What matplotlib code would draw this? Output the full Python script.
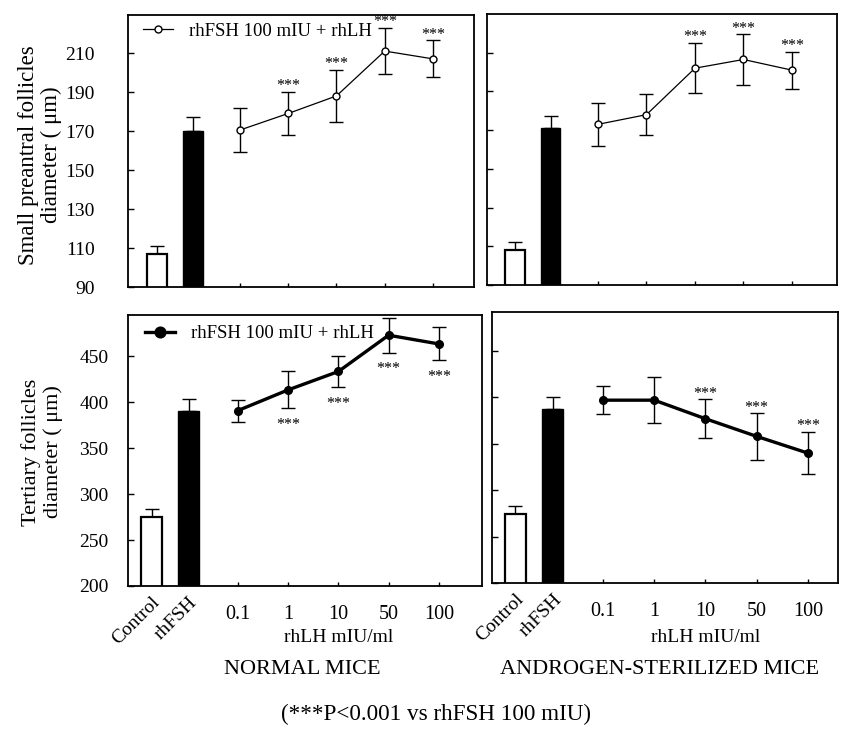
import numpy as np
import matplotlib
matplotlib.use("Agg")
import matplotlib.pyplot as plt
import matplotlib.transforms as mtransforms

plt.rcParams['font.family'] = ['Liberation Serif', 'DejaVu Serif']

# ---- data ----
doses = ['0.1', '1', '10', '50', '100']
bar_names = ['Control', 'rhFSH']

# small preantral follicles, normal mice
tl_bar = [107, 170]
tl_bar_err = [4, 7]
tl_pts = [170.5, 179, 188, 211, 207]
tl_err = [11.5, 11, 13.5, 12, 9.5]
tl_sig = [0, 1, 1, 1, 1]

# small preantral follicles, androgen-sterilized mice
tr_bar = [108, 171]
tr_bar_err = [4, 6.5]
tr_pts = [173, 178, 202, 206.5, 201]
tr_err = [11, 10.5, 13, 13, 9.5]
tr_sig = [0, 0, 1, 1, 1]

# tertiary follicles, normal mice
bl_bar = [275, 391]
bl_bar_err = [9, 12.5]
bl_pts = [391, 413.5, 433.5, 473, 463.5]
bl_err = [12, 20, 17, 19, 18]
bl_sig = [0, 1, 1, 1, 1]

# tertiary follicles, androgen-sterilized mice
br_bar = [274, 388]
br_bar_err = [9.5, 12.5]
br_pts = [397, 397, 377, 358, 340]
br_err = [15, 24.5, 21, 25, 23]
br_sig = [0, 0, 1, 1, 1]

legend_label = 'rhFSH 100 mIU + rhLH'

W, H = 841, 737
fig = plt.figure(figsize=(W / 100, H / 100), dpi=100)


def px_axes(l, r, t, b):
    return fig.add_axes([l / W, 1 - b / H, (r - l) / W, (b - t) / H])


bar_x = [-1.72, -0.98]
pt_x = np.arange(len(doses))


def panel(ax, bars, bar_err, pts, err, sig, xlim, ylim, yticks, filled,
          sig_below=False, legend=False, leg_anchor=None, show_ylab=False, ypad=10,
          show_x=False):
    ax.bar(bar_x[0], bars[0], width=0.41, color='white', edgecolor='black', linewidth=1.6, zorder=2)
    ax.bar(bar_x[1], bars[1], width=0.41, color='black', edgecolor='black', linewidth=1.0, zorder=2)
    ax.errorbar(bar_x, bars, yerr=[[0, 0], bar_err], fmt='none', ecolor='black',
                elinewidth=1.0, capsize=5, capthick=1.0, zorder=1)
    if filled:
        line, = ax.plot(pt_x, pts, '-o', color='black', lw=2.4, ms=5.5,
                        mfc='black', mec='black', zorder=3, label=legend_label)
    else:
        line, = ax.plot(pt_x, pts, '-o', color='black', lw=0.9, ms=5,
                        mfc='white', mec='black', mew=1.0, zorder=3, label=legend_label)
    ax.errorbar(pt_x, pts, yerr=err, fmt='none', ecolor='black',
                elinewidth=1.0, capsize=5, capthick=1.0, zorder=2)
    for x, y, e, s in zip(pt_x, pts, err, sig):
        if not s:
            continue
        if sig_below:
            ax.annotate('***', (x, y - e), xytext=(0, -12), textcoords='offset points',
                        ha='center', va='center', fontsize=11.5)
        else:
            ax.annotate('***', (x, y + e), xytext=(0, 4), textcoords='offset points',
                        ha='center', va='center', fontsize=11.5)
    ax.set_xlim(*xlim)
    ax.set_ylim(*ylim)
    ax.set_yticks(yticks)
    ax.tick_params(axis='y', direction='in', length=4, width=1, labelsize=14, pad=ypad,
                   labelleft=show_ylab)
    ax.set_xticks(pt_x)
    ax.tick_params(axis='x', direction='in', length=3, width=1, labelsize=14.5, pad=14,
                   labelbottom=show_x)
    if show_x:
        ax.set_xticklabels(doses)
        tr = mtransforms.blended_transform_factory(ax.transData, ax.transAxes)
        for bx, name in zip(bar_x, bar_names):
            ax.text(bx + 0.12, -0.05, name, transform=tr, rotation=45,
                    rotation_mode='anchor', ha='right', va='center', fontsize=14)
    for sp in ax.spines.values():
        sp.set_linewidth(1.3)
    if legend:
        ax.legend(handles=[line], loc='upper left', bbox_to_anchor=leg_anchor,
                  frameon=False, fontsize=13.5, handlelength=1.6, handletextpad=0.85,
                  borderaxespad=0, borderpad=0, numpoints=1,
                  markerscale=1.4 if filled else 1.0)


ax_tl = px_axes(128, 474, 15, 287)
ax_tr = px_axes(487, 837, 14, 285)
ax_bl = px_axes(128, 482, 315, 586)
ax_br = px_axes(492, 838, 312, 583)

top_ticks = [90, 110, 130, 150, 170, 190, 210]
bot_ticks = [200, 250, 300, 350, 400, 450]

panel(ax_tl, tl_bar, tl_bar_err, tl_pts, tl_err, tl_sig, (-2.32, 4.85), (90, 229.5),
      top_ticks, filled=False, legend=True, leg_anchor=(0.043, 0.972),
      show_ylab=True, ypad=24)
panel(ax_tr, tr_bar, tr_bar_err, tr_pts, tr_err, tr_sig, (-2.29, 4.93), (90, 230),
      top_ticks, filled=False)
panel(ax_bl, bl_bar, bl_bar_err, bl_pts, bl_err, bl_sig, (-2.19, 4.86), (200, 495),
      bot_ticks, filled=True, sig_below=True, legend=True, leg_anchor=(0.048, 0.962),
      show_ylab=True, ypad=14, show_x=True)
panel(ax_br, br_bar, br_bar_err, br_pts, br_err, br_sig, (-2.17, 4.59), (200, 492),
      bot_ticks, filled=True, show_x=True)

# axis titles
fig.text(40 / W, 1 - 155 / H, 'Small preantral follicles\ndiameter ( μm)', rotation=90,
         ha='center', va='center', fontsize=16.5, linespacing=1.1)
fig.text(42 / W, 1 - 452 / H, 'Tertiary follicles\ndiameter ( μm)', rotation=90,
         ha='center', va='center', fontsize=16, linespacing=1.1)

for ax in (ax_bl, ax_br):
    tr = mtransforms.blended_transform_factory(ax.transData, fig.transFigure)
    ax.text(2, 1 - 637 / H, 'rhLH mIU/ml', transform=tr, ha='center', va='center', fontsize=14)

fig.text(302 / W, 1 - 670 / H, 'NORMAL MICE', ha='center', va='center', fontsize=16)
fig.text(660 / W, 1 - 670 / H, 'ANDROGEN-STERILIZED MICE', ha='center', va='center', fontsize=16)
fig.text(436 / W, 1 - 714 / H, '(***P<0.001 vs rhFSH 100 mIU)', ha='center', va='center',
         fontsize=16.7)

fig.savefig('out.png', dpi=100)
